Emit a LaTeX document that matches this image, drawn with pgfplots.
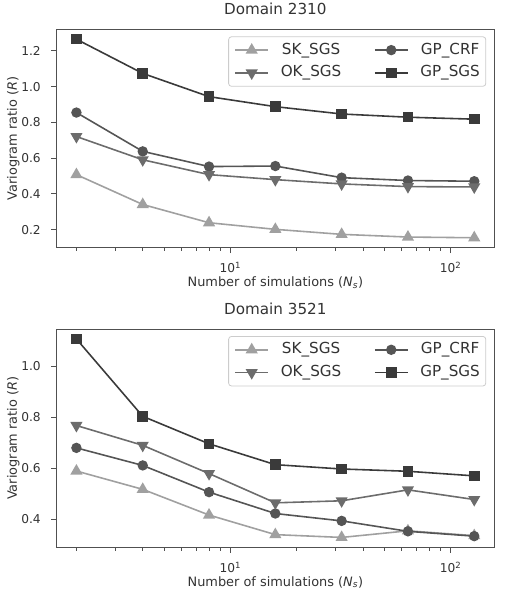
\documentclass[border=0pt]{standalone}
\usepackage{pgfplots}
\pgfplotsset{compat=1.18}
\usepackage{fontspec}
\setmainfont{DejaVu Sans}
\definecolor{cSK}{HTML}{A0A0A0}
\definecolor{cOK}{HTML}{6C6C6C}
\definecolor{cCRF}{HTML}{555555}
\definecolor{cSGS}{HTML}{3A3A3A}
\definecolor{cframe}{HTML}{505050}
\definecolor{ctext}{HTML}{333333}
\pgfplotsset{
  myax/.style={
    scale only axis, width=441bp, height=220bp,
    xmin=1.625, xmax=157.6,
    axis line style={cframe, line width=1.1bp},
    every tick/.style={cframe, line width=0.9bp},
    tick align=outside, xtick pos=bottom, ytick pos=left,
    major tick length=5.5bp, minor tick length=3.2bp,
    xtick={10,100}, xticklabels={10\textsuperscript{1},10\textsuperscript{2}},
    minor xtick={2,3,4,5,6,7,8,9,20,30,40,50,60,70,80,90},
    tick label style={font=\fontsize{12.3bp}{14bp}\selectfont, text=ctext},
    xticklabel style={anchor=base, yshift=-20bp},
    yticklabel style={anchor=east, xshift=-7bp},
    label style={font=\fontsize{13bp}{15bp}\selectfont, text=ctext},
    xlabel={Number of simulations (\emph{N}\textsubscript{\emph{s}})},
    ylabel={Variogram ratio (\emph{R})},
    xlabel style={at={(axis description cs:0.5,-0.1773)}, anchor=base},
    ylabel style={at={(axis description cs:-0.0907,0.5)}, anchor=base},
    title style={font=\fontsize{15.3bp}{17bp}\selectfont, text=ctext, at={(axis description cs:0.5,1)}, anchor=base, yshift=8.7bp},
    legend columns=2,
    legend style={at={(axis description cs:1,1)}, anchor=north east, xshift=-8bp, yshift=-7bp,
      draw=black!20, line width=0.8bp, rounded corners=3bp, fill=white, text=ctext,
      font=\fontsize{15.3bp}{17bp}\selectfont,
      nodes={inner xsep=0pt, inner ysep=0pt, text height=11.5bp, text depth=3.5bp},
      /tikz/every odd column/.append style={column sep=12bp},
      /tikz/every even column/.append style={column sep=33bp},
      inner xsep=6bp, inner ysep=6bp, row sep=8bp},
    legend image code/.code={\draw[mark repeat=2,mark phase=2] plot coordinates {(0bp,0bp) (16.5bp,0bp) (33bp,0bp)};},
  },
  sk/.style={cSK, line width=1.6bp, mark=triangle*, mark size=5.5bp, mark options={solid, fill=cSK, draw=cSK}},
  ok/.style={cOK, line width=1.6bp, mark=triangle*, mark size=5.5bp, mark options={solid, fill=cOK, draw=cOK, rotate=180}},
  crf/.style={cCRF, line width=1.6bp, mark=*, mark size=4.4bp, mark options={solid, fill=cCRF, draw=cCRF}},
  sgs/.style={cSGS, line width=1.6bp, mark=square*, mark size=4.5bp, mark options={solid, fill=cSGS, draw=cSGS}},
}
\begin{document}
\begin{tikzpicture}
\path (0,0) rectangle (508bp,593bp);
\begin{axis}[xmode=log, myax, at={(57bp,348bp)}, anchor=south west,
  title={Domain 2310}, ymin=0.0995, ymax=1.32,
  ytick={0.2,0.4,0.6,0.8,1.0,1.2}, yticklabels={0.2,0.4,0.6,0.8,1.0,1.2}]
\addplot[sk] coordinates {(2,0.508) (4,0.341) (8,0.239) (16,0.202) (32,0.174) (64,0.159) (128,0.155)};
\addlegendentry{SK\_SGS}
\addplot[crf] coordinates {(2,0.855) (4,0.638) (8,0.553) (16,0.556) (32,0.491) (64,0.475) (128,0.471)};
\addlegendentry{GP\_CRF}
\addplot[ok] coordinates {(2,0.721) (4,0.591) (8,0.508) (16,0.480) (32,0.456) (64,0.441) (128,0.439)};
\addlegendentry{OK\_SGS}
\addplot[sgs] coordinates {(2,1.265) (4,1.074) (8,0.944) (16,0.888) (32,0.847) (64,0.829) (128,0.818)};
\addlegendentry{GP\_SGS}
\end{axis}
\begin{axis}[xmode=log, myax, at={(57bp,46bp)}, anchor=south west,
  title={Domain 3521}, ymin=0.289, ymax=1.147,
  ytick={0.4,0.6,0.8,1.0}, yticklabels={0.4,0.6,0.8,1.0}]
\addplot[sk] coordinates {(2,0.589) (4,0.517) (8,0.416) (16,0.339) (32,0.328) (64,0.354) (128,0.335)};
\addlegendentry{SK\_SGS}
\addplot[crf] coordinates {(2,0.680) (4,0.611) (8,0.506) (16,0.422) (32,0.393) (64,0.352) (128,0.333)};
\addlegendentry{GP\_CRF}
\addplot[ok] coordinates {(2,0.768) (4,0.690) (8,0.579) (16,0.464) (32,0.472) (64,0.515) (128,0.477)};
\addlegendentry{OK\_SGS}
\addplot[sgs] coordinates {(2,1.108) (4,0.804) (8,0.696) (16,0.614) (32,0.597) (64,0.588) (128,0.570)};
\addlegendentry{GP\_SGS}
\end{axis}
\end{tikzpicture}
\end{document}
